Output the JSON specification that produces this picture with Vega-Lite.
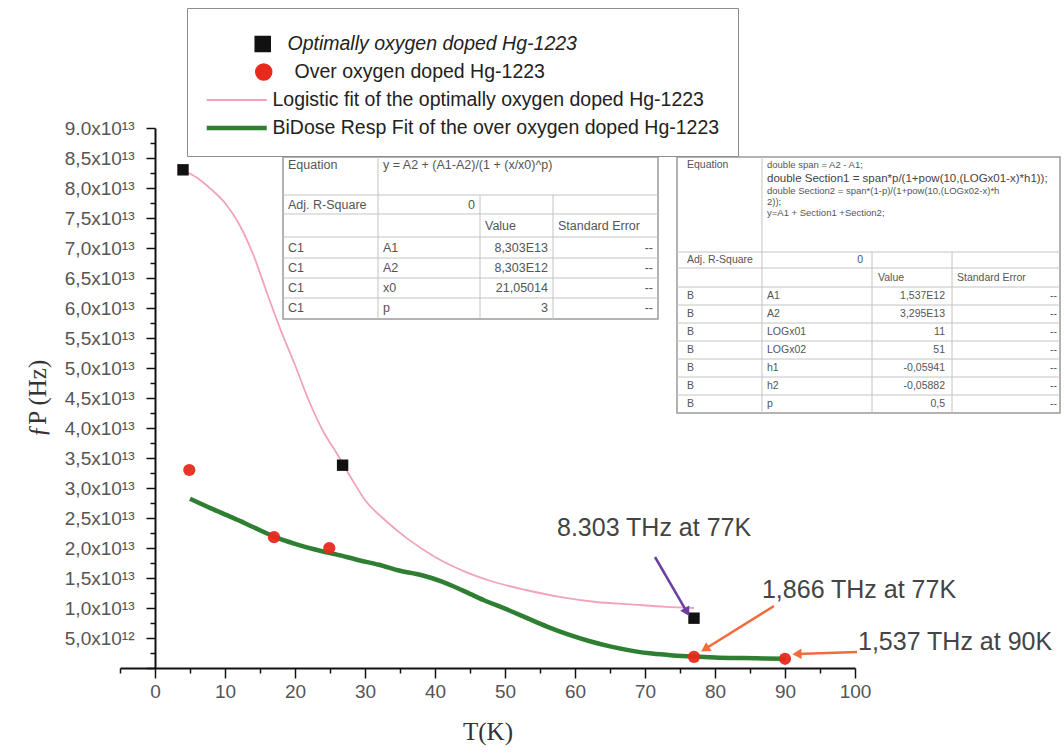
{
  "$schema": "https://vega.github.io/schema/vega-lite/v6.json",
  "width": 735,
  "height": 540,
  "autosize": "none",
  "padding": {"left": 120, "top": 128, "right": 209, "bottom": 86},
  "background": "white",
  "config": {
    "view": {"stroke": null},
    "font": "Liberation Sans",
    "axis": {"grid": false},
    "legend": {"symbolOffset": 22, "labelOffset": 26, "padding": 18, "rowPadding": 8, "clipHeight": 20}
  },
  "datasets": {
    "tableBoxes": [
      {"T": 18.29, "T2": 71.86, "fp": 5.817e13, "fp2": 8.517e13},
      {"T": 74.57, "T2": 129.29, "fp": 4.25e13, "fp2": 8.517e13}
    ],
    "tableRules": [
      {"T": 18.29, "T2": 71.86, "fp": 7.883e13, "fp2": 7.883e13},
      {"T": 18.29, "T2": 71.86, "fp": 7.567e13, "fp2": 7.567e13},
      {"T": 18.29, "T2": 71.86, "fp": 7.183e13, "fp2": 7.183e13},
      {"T": 18.29, "T2": 71.86, "fp": 6.833e13, "fp2": 6.833e13},
      {"T": 18.29, "T2": 71.86, "fp": 6.5e13, "fp2": 6.5e13},
      {"T": 18.29, "T2": 71.86, "fp": 6.167e13, "fp2": 6.167e13},
      {"T": 31.86, "T2": 31.86, "fp": 5.817e13, "fp2": 8.517e13},
      {"T": 46.43, "T2": 46.43, "fp": 5.817e13, "fp2": 7.883e13},
      {"T": 56.86, "T2": 56.86, "fp": 5.817e13, "fp2": 7.883e13},
      {"T": 74.57, "T2": 129.29, "fp": 6.933e13, "fp2": 6.933e13},
      {"T": 74.57, "T2": 129.29, "fp": 6.667e13, "fp2": 6.667e13},
      {"T": 74.57, "T2": 129.29, "fp": 6.35e13, "fp2": 6.35e13},
      {"T": 74.57, "T2": 129.29, "fp": 6.05e13, "fp2": 6.05e13},
      {"T": 74.57, "T2": 129.29, "fp": 5.75e13, "fp2": 5.75e13},
      {"T": 74.57, "T2": 129.29, "fp": 5.45e13, "fp2": 5.45e13},
      {"T": 74.57, "T2": 129.29, "fp": 5.15e13, "fp2": 5.15e13},
      {"T": 74.57, "T2": 129.29, "fp": 4.85e13, "fp2": 4.85e13},
      {"T": 74.57, "T2": 129.29, "fp": 4.55e13, "fp2": 4.55e13},
      {"T": 86.71, "T2": 86.71, "fp": 4.25e13, "fp2": 8.517e13},
      {"T": 102.43, "T2": 102.43, "fp": 4.25e13, "fp2": 6.933e13},
      {"T": 113.86, "T2": 113.86, "fp": 4.25e13, "fp2": 6.933e13}
    ],
    "t1Left": [
      {"T": 19.0, "fp": 8.383e13, "text": "Equation"},
      {"T": 32.57, "fp": 8.383e13, "text": "y = A2 + (A1-A2)/(1 + (x/x0)^p)"},
      {"T": 19.0, "fp": 7.725e13, "text": "Adj. R-Square"},
      {"T": 47.14, "fp": 7.375e13, "text": "Value"},
      {"T": 57.57, "fp": 7.375e13, "text": "Standard Error"},
      {"T": 19.0, "fp": 7.008e13, "text": "C1"},
      {"T": 19.0, "fp": 6.667e13, "text": "C1"},
      {"T": 19.0, "fp": 6.333e13, "text": "C1"},
      {"T": 19.0, "fp": 5.992e13, "text": "C1"},
      {"T": 32.57, "fp": 7.008e13, "text": "A1"},
      {"T": 32.57, "fp": 6.667e13, "text": "A2"},
      {"T": 32.57, "fp": 6.333e13, "text": "x0"},
      {"T": 32.57, "fp": 5.992e13, "text": "p"}
    ],
    "t1Right": [
      {"T": 45.71, "fp": 7.725e13, "text": "0"},
      {"T": 56.14, "fp": 7.008e13, "text": "8,303E13"},
      {"T": 56.14, "fp": 6.667e13, "text": "8,303E12"},
      {"T": 56.14, "fp": 6.333e13, "text": "21,05014"},
      {"T": 56.14, "fp": 5.992e13, "text": "3"},
      {"T": 71.14, "fp": 7.008e13, "text": "--"},
      {"T": 71.14, "fp": 6.667e13, "text": "--"},
      {"T": 71.14, "fp": 6.333e13, "text": "--"},
      {"T": 71.14, "fp": 5.992e13, "text": "--"}
    ],
    "t2Left": [
      {"T": 76.0, "fp": 8.383e13, "text": "Equation"},
      {"T": 76.0, "fp": 6.8e13, "text": "Adj. R-Square"},
      {"T": 103.29, "fp": 6.508e13, "text": "Value"},
      {"T": 114.57, "fp": 6.508e13, "text": "Standard Error"},
      {"T": 76.0, "fp": 6.2e13, "text": "B"},
      {"T": 76.0, "fp": 5.9e13, "text": "B"},
      {"T": 76.0, "fp": 5.6e13, "text": "B"},
      {"T": 76.0, "fp": 5.3e13, "text": "B"},
      {"T": 76.0, "fp": 5.0e13, "text": "B"},
      {"T": 76.0, "fp": 4.7e13, "text": "B"},
      {"T": 76.0, "fp": 4.4e13, "text": "B"},
      {"T": 87.43, "fp": 6.2e13, "text": "A1"},
      {"T": 87.43, "fp": 5.9e13, "text": "A2"},
      {"T": 87.43, "fp": 5.6e13, "text": "LOGx01"},
      {"T": 87.43, "fp": 5.3e13, "text": "LOGx02"},
      {"T": 87.43, "fp": 5.0e13, "text": "h1"},
      {"T": 87.43, "fp": 4.7e13, "text": "h2"},
      {"T": 87.43, "fp": 4.4e13, "text": "p"}
    ],
    "t2Right": [
      {"T": 101.14, "fp": 6.8e13, "text": "0"},
      {"T": 112.86, "fp": 6.2e13, "text": "1,537E12"},
      {"T": 112.86, "fp": 5.9e13, "text": "3,295E13"},
      {"T": 112.86, "fp": 5.6e13, "text": "11"},
      {"T": 112.86, "fp": 5.3e13, "text": "51"},
      {"T": 112.86, "fp": 5.0e13, "text": "-0,05941"},
      {"T": 112.86, "fp": 4.7e13, "text": "-0,05882"},
      {"T": 112.86, "fp": 4.4e13, "text": "0,5"},
      {"T": 128.86, "fp": 6.2e13, "text": "--"},
      {"T": 128.86, "fp": 5.9e13, "text": "--"},
      {"T": 128.86, "fp": 5.6e13, "text": "--"},
      {"T": 128.86, "fp": 5.3e13, "text": "--"},
      {"T": 128.86, "fp": 5.0e13, "text": "--"},
      {"T": 128.86, "fp": 4.7e13, "text": "--"},
      {"T": 128.86, "fp": 4.4e13, "text": "--"}
    ],
    "t2EqSmall": [
      {"T": 87.43, "fp": 8.383e13, "text": "double span = A2 - A1;"},
      {"T": 87.43, "fp": 7.95e13, "text": "double Section2 = span*(1-p)/(1+pow(10,(LOGx02-x)*h"},
      {"T": 87.43, "fp": 7.767e13, "text": "2));"},
      {"T": 87.43, "fp": 7.583e13, "text": "y=A1 + Section1 +Section2;"}
    ],
    "t2EqBig": [
      {"T": 87.43, "fp": 8.15e13, "text": "double Section1 = span*p/(1+pow(10,(LOGx01-x)*h1));"}
    ],
    "logisticFit": [
      {"T": 4, "fp": 8.30e13, "series": "Logistic fit of the optimally oxygen doped Hg-1223"},
      {"T": 6, "fp": 8.17e13, "series": "Logistic fit of the optimally oxygen doped Hg-1223"},
      {"T": 8, "fp": 7.98e13, "series": "Logistic fit of the optimally oxygen doped Hg-1223"},
      {"T": 10, "fp": 7.75e13, "series": "Logistic fit of the optimally oxygen doped Hg-1223"},
      {"T": 12, "fp": 7.40e13, "series": "Logistic fit of the optimally oxygen doped Hg-1223"},
      {"T": 14, "fp": 6.90e13, "series": "Logistic fit of the optimally oxygen doped Hg-1223"},
      {"T": 16, "fp": 6.25e13, "series": "Logistic fit of the optimally oxygen doped Hg-1223"},
      {"T": 18, "fp": 5.62e13, "series": "Logistic fit of the optimally oxygen doped Hg-1223"},
      {"T": 20, "fp": 5.05e13, "series": "Logistic fit of the optimally oxygen doped Hg-1223"},
      {"T": 22, "fp": 4.45e13, "series": "Logistic fit of the optimally oxygen doped Hg-1223"},
      {"T": 24, "fp": 3.95e13, "series": "Logistic fit of the optimally oxygen doped Hg-1223"},
      {"T": 26, "fp": 3.57e13, "series": "Logistic fit of the optimally oxygen doped Hg-1223"},
      {"T": 28, "fp": 3.17e13, "series": "Logistic fit of the optimally oxygen doped Hg-1223"},
      {"T": 30, "fp": 2.80e13, "series": "Logistic fit of the optimally oxygen doped Hg-1223"},
      {"T": 33, "fp": 2.45e13, "series": "Logistic fit of the optimally oxygen doped Hg-1223"},
      {"T": 36, "fp": 2.16e13, "series": "Logistic fit of the optimally oxygen doped Hg-1223"},
      {"T": 40, "fp": 1.85e13, "series": "Logistic fit of the optimally oxygen doped Hg-1223"},
      {"T": 44, "fp": 1.62e13, "series": "Logistic fit of the optimally oxygen doped Hg-1223"},
      {"T": 48, "fp": 1.45e13, "series": "Logistic fit of the optimally oxygen doped Hg-1223"},
      {"T": 53, "fp": 1.30e13, "series": "Logistic fit of the optimally oxygen doped Hg-1223"},
      {"T": 58, "fp": 1.18e13, "series": "Logistic fit of the optimally oxygen doped Hg-1223"},
      {"T": 63, "fp": 1.10e13, "series": "Logistic fit of the optimally oxygen doped Hg-1223"},
      {"T": 68, "fp": 1.06e13, "series": "Logistic fit of the optimally oxygen doped Hg-1223"},
      {"T": 73, "fp": 1.02e13, "series": "Logistic fit of the optimally oxygen doped Hg-1223"},
      {"T": 77, "fp": 1.00e13, "series": "Logistic fit of the optimally oxygen doped Hg-1223"}
    ],
    "biDoseFit": [
      {"T": 5, "fp": 2.82e13, "series": "BiDose Resp Fit of the over oxygen doped Hg-1223"},
      {"T": 8, "fp": 2.66e13, "series": "BiDose Resp Fit of the over oxygen doped Hg-1223"},
      {"T": 11, "fp": 2.51e13, "series": "BiDose Resp Fit of the over oxygen doped Hg-1223"},
      {"T": 14, "fp": 2.35e13, "series": "BiDose Resp Fit of the over oxygen doped Hg-1223"},
      {"T": 17, "fp": 2.19e13, "series": "BiDose Resp Fit of the over oxygen doped Hg-1223"},
      {"T": 20, "fp": 2.07e13, "series": "BiDose Resp Fit of the over oxygen doped Hg-1223"},
      {"T": 23, "fp": 1.97e13, "series": "BiDose Resp Fit of the over oxygen doped Hg-1223"},
      {"T": 26, "fp": 1.89e13, "series": "BiDose Resp Fit of the over oxygen doped Hg-1223"},
      {"T": 29, "fp": 1.80e13, "series": "BiDose Resp Fit of the over oxygen doped Hg-1223"},
      {"T": 32, "fp": 1.72e13, "series": "BiDose Resp Fit of the over oxygen doped Hg-1223"},
      {"T": 35, "fp": 1.62e13, "series": "BiDose Resp Fit of the over oxygen doped Hg-1223"},
      {"T": 38, "fp": 1.55e13, "series": "BiDose Resp Fit of the over oxygen doped Hg-1223"},
      {"T": 41, "fp": 1.44e13, "series": "BiDose Resp Fit of the over oxygen doped Hg-1223"},
      {"T": 44, "fp": 1.29e13, "series": "BiDose Resp Fit of the over oxygen doped Hg-1223"},
      {"T": 47, "fp": 1.13e13, "series": "BiDose Resp Fit of the over oxygen doped Hg-1223"},
      {"T": 50, "fp": 0.99e13, "series": "BiDose Resp Fit of the over oxygen doped Hg-1223"},
      {"T": 53, "fp": 0.84e13, "series": "BiDose Resp Fit of the over oxygen doped Hg-1223"},
      {"T": 56, "fp": 0.69e13, "series": "BiDose Resp Fit of the over oxygen doped Hg-1223"},
      {"T": 59, "fp": 0.56e13, "series": "BiDose Resp Fit of the over oxygen doped Hg-1223"},
      {"T": 62, "fp": 0.45e13, "series": "BiDose Resp Fit of the over oxygen doped Hg-1223"},
      {"T": 65, "fp": 0.36e13, "series": "BiDose Resp Fit of the over oxygen doped Hg-1223"},
      {"T": 68, "fp": 0.29e13, "series": "BiDose Resp Fit of the over oxygen doped Hg-1223"},
      {"T": 71, "fp": 0.24e13, "series": "BiDose Resp Fit of the over oxygen doped Hg-1223"},
      {"T": 74, "fp": 0.21e13, "series": "BiDose Resp Fit of the over oxygen doped Hg-1223"},
      {"T": 77, "fp": 0.19e13, "series": "BiDose Resp Fit of the over oxygen doped Hg-1223"},
      {"T": 80, "fp": 0.175e13, "series": "BiDose Resp Fit of the over oxygen doped Hg-1223"},
      {"T": 84, "fp": 0.165e13, "series": "BiDose Resp Fit of the over oxygen doped Hg-1223"},
      {"T": 87, "fp": 0.16e13, "series": "BiDose Resp Fit of the over oxygen doped Hg-1223"},
      {"T": 90, "fp": 0.155e13, "series": "BiDose Resp Fit of the over oxygen doped Hg-1223"}
    ],
    "optimal": [
      {"T": 4, "fp": 8.303e13, "series": "Optimally oxygen doped Hg-1223"},
      {"T": 26.8, "fp": 3.38e13, "series": "Optimally oxygen doped Hg-1223"},
      {"T": 77, "fp": 8.303e12, "series": "Optimally oxygen doped Hg-1223"}
    ],
    "over": [
      {"T": 4.9, "fp": 3.3e13, "series": "Over oxygen doped Hg-1223"},
      {"T": 17, "fp": 2.18e13, "series": "Over oxygen doped Hg-1223"},
      {"T": 24.9, "fp": 2.0e13, "series": "Over oxygen doped Hg-1223"},
      {"T": 77, "fp": 1.866e12, "series": "Over oxygen doped Hg-1223"},
      {"T": 90, "fp": 1.537e12, "series": "Over oxygen doped Hg-1223"}
    ],
    "arrows": [
      {"note": "8.303 THz at 77K", "T": 71.43, "fp": 1.85e13, "T2": 76.0, "fp2": 0.933e13},
      {"note": "1,866 THz at 77K", "T": 88.43, "fp": 1.033e13, "T2": 78.57, "fp2": 0.317e13},
      {"note": "1,537 THz at 90K", "T": 100.29, "fp": 0.267e13, "T2": 91.71, "fp2": 0.233e13}
    ],
    "notes": [
      {"T": 57.43, "fp": 2.333e13, "text": "8.303 THz at 77K"},
      {"T": 86.71, "fp": 1.3e13, "text": "1,866 THz at 77K"},
      {"T": 100.43, "fp": 0.433e13, "text": "1,537 THz at 90K"}
    ]
  },
  "layer": [
    {
      "data": {"name": "tableBoxes"},
      "mark": {"type": "rect", "fill": "white", "stroke": "#9a9a9a", "strokeWidth": 1.5},
      "encoding": {
        "x": {
          "field": "T", "type": "quantitative",
          "scale": {"domain": [-5, 100], "nice": false, "zero": false},
          "axis": {
            "title": "T(K)", "titleFont": "Liberation Serif", "titleFontSize": 25, "titleFontWeight": "normal",
            "titleColor": "#333", "titlePadding": 18,
            "values": [-5, 0, 5, 10, 15, 20, 25, 30, 35, 40, 45, 50, 55, 60, 65, 70, 75, 80, 85, 90, 95, 100],
            "tickCount": 500,
            "labelExpr": "datum.value >= 0 && datum.value % 10 == 0 ? format(datum.value, 'd') : ''",
            "labelFontSize": 19, "labelColor": "#555", "labelPadding": 4, "labelFlush": false, "labelOverlap": false,
            "domainColor": "#111", "domainWidth": 2, "tickColor": "#111", "tickWidth": 1.5,
            "tickSize": {"condition": {"test": "datum.value % 10 == 0", "value": 10}, "value": 5}
          }
        },
        "x2": {"field": "T2"},
        "y": {
          "field": "fp", "type": "quantitative",
          "scale": {"domain": [0, 9e13], "nice": false, "zero": false},
          "axis": {
            "title": "ƒP (Hz)", "titleFont": "Liberation Serif", "titleFontSize": 25, "titleFontWeight": "normal",
            "titleColor": "#333", "titlePadding": 14, "offset": -35,
            "values": [0, 2.5e12, 5e12, 7.5e12, 1e13, 1.25e13, 1.5e13, 1.75e13, 2e13, 2.25e13, 2.5e13, 2.75e13, 3e13, 3.25e13, 3.5e13, 3.75e13, 4e13, 4.25e13, 4.5e13, 4.75e13, 5e13, 5.25e13, 5.5e13, 5.75e13, 6e13, 6.25e13, 6.5e13, 6.75e13, 7e13, 7.25e13, 7.5e13, 7.75e13, 8e13, 8.25e13, 8.5e13, 8.75e13, 9e13],
            "tickCount": 500,
            "labelExpr": "datum.value == 0 || datum.value % 5e12 != 0 ? '' : datum.value == 9e13 ? '9.0x10¹³' : datum.value < 1e13 ? replace(format(datum.value / 1e12, '.1f'), '.', ',') + 'x10¹²' : replace(format(datum.value / 1e13, '.1f'), '.', ',') + 'x10¹³'",
            "labelFontSize": 19, "labelColor": "#555", "labelPadding": 12, "labelOverlap": false,
            "domainColor": "#111", "domainWidth": 2, "tickColor": "#111", "tickWidth": 1.5,
            "tickSize": {"condition": {"test": "datum.value % 5e12 == 0", "value": 9}, "value": 5}
          }
        },
        "y2": {"field": "fp2"}
      }
    },
    {
      "data": {"name": "tableRules"},
      "mark": {"type": "rule", "stroke": "#c4c4c4", "strokeWidth": 1},
      "encoding": {
        "x": {"field": "T", "type": "quantitative"},
        "x2": {"field": "T2"},
        "y": {"field": "fp", "type": "quantitative"},
        "y2": {"field": "fp2"}
      }
    },
    {
      "data": {"name": "t1Left"},
      "mark": {"type": "text", "align": "left", "baseline": "middle", "fontSize": 12.5, "color": "#555"},
      "encoding": {
        "x": {"field": "T", "type": "quantitative"},
        "y": {"field": "fp", "type": "quantitative"},
        "text": {"field": "text"}
      }
    },
    {
      "data": {"name": "t1Right"},
      "mark": {"type": "text", "align": "right", "baseline": "middle", "fontSize": 12.5, "color": "#555"},
      "encoding": {
        "x": {"field": "T", "type": "quantitative"},
        "y": {"field": "fp", "type": "quantitative"},
        "text": {"field": "text"}
      }
    },
    {
      "data": {"name": "t2Left"},
      "mark": {"type": "text", "align": "left", "baseline": "middle", "fontSize": 10.5, "color": "#555"},
      "encoding": {
        "x": {"field": "T", "type": "quantitative"},
        "y": {"field": "fp", "type": "quantitative"},
        "text": {"field": "text"}
      }
    },
    {
      "data": {"name": "t2Right"},
      "mark": {"type": "text", "align": "right", "baseline": "middle", "fontSize": 10.5, "color": "#555"},
      "encoding": {
        "x": {"field": "T", "type": "quantitative"},
        "y": {"field": "fp", "type": "quantitative"},
        "text": {"field": "text"}
      }
    },
    {
      "data": {"name": "t2EqSmall"},
      "mark": {"type": "text", "align": "left", "baseline": "middle", "fontSize": 9.5, "color": "#555"},
      "encoding": {
        "x": {"field": "T", "type": "quantitative"},
        "y": {"field": "fp", "type": "quantitative"},
        "text": {"field": "text"}
      }
    },
    {
      "data": {"name": "t2EqBig"},
      "mark": {"type": "text", "align": "left", "baseline": "middle", "fontSize": 11.5, "color": "#444"},
      "encoding": {
        "x": {"field": "T", "type": "quantitative"},
        "y": {"field": "fp", "type": "quantitative"},
        "text": {"field": "text"}
      }
    },
    {
      "data": {"name": "logisticFit"},
      "mark": {"type": "line", "strokeWidth": 1.8, "interpolate": "monotone"},
      "encoding": {
        "x": {"field": "T", "type": "quantitative"},
        "y": {"field": "fp", "type": "quantitative"},
        "color": {
          "field": "series", "type": "nominal",
          "scale": {
            "domain": ["Optimally oxygen doped Hg-1223", "Over oxygen doped Hg-1223", "Logistic fit of the optimally oxygen doped Hg-1223", "BiDose Resp Fit of the over oxygen doped Hg-1223"],
            "range": ["#111111", "#e8291c", "#f2a3b8", "#2f7f33"]
          },
          "legend": {
            "orient": "none", "legendX": 67, "legendY": -120,
            "title": " ", "titleFontSize": 8, "titlePadding": 0,
            "padding": 18, "strokeColor": "#8c8c8c", "fillColor": "white",
            "symbolSize": 3600, "clipHeight": 20, "rowPadding": 8,
            "symbolOffset": 22, "labelOffset": 26,
            "labelFont": "Liberation Sans", "labelFontSize": 19.5, "labelColor": "#222", "labelLimit": 800,
            "encode": {
              "symbols": {
                "update": {
                  "shape": {"signal": "datum.value == 'Optimally oxygen doped Hg-1223' ? 'M3.33,-1L5.33,-1L5.33,1L3.33,1Z' : datum.value == 'Over oxygen doped Hg-1223' ? 'M3.15,0A1,1,0,1,1,5.15,0A1,1,0,1,1,3.15,0Z' : 'stroke'"},
                  "size": {"signal": "datum.value == 'Optimally oxygen doped Hg-1223' ? 144 : datum.value == 'Over oxygen doped Hg-1223' ? 169 : 3600"},
                  "fill": {"signal": "indexof(['Optimally oxygen doped Hg-1223', 'Over oxygen doped Hg-1223'], datum.value) >= 0 ? scale('color', datum.value) : 'transparent'"},
                  "stroke": {"signal": "indexof(['Optimally oxygen doped Hg-1223', 'Over oxygen doped Hg-1223'], datum.value) >= 0 ? 'transparent' : scale('color', datum.value)"},
                  "strokeWidth": {"signal": "datum.value == 'Logistic fit of the optimally oxygen doped Hg-1223' ? 2.2 : 4.5"},
                  "opacity": {"value": 1}
                }
              },
              "labels": {
                "update": {
                  "fontStyle": {"signal": "datum.value == 'Optimally oxygen doped Hg-1223' ? 'italic' : 'normal'"},
                  "dx": {"signal": "datum.value == 'Optimally oxygen doped Hg-1223' ? 15 : datum.value == 'Over oxygen doped Hg-1223' ? 22 : 0"}
                }
              }
            }
          }
        }
      }
    },
    {
      "data": {"name": "biDoseFit"},
      "mark": {"type": "line", "strokeWidth": 4.5, "interpolate": "monotone"},
      "encoding": {
        "x": {"field": "T", "type": "quantitative"},
        "y": {"field": "fp", "type": "quantitative"},
        "color": {"field": "series", "type": "nominal"}
      }
    },
    {
      "data": {"name": "optimal"},
      "mark": {"type": "point", "shape": "square", "filled": true, "size": 130, "opacity": 1},
      "encoding": {
        "x": {"field": "T", "type": "quantitative"},
        "y": {"field": "fp", "type": "quantitative"},
        "color": {"field": "series", "type": "nominal"}
      }
    },
    {
      "data": {"name": "over"},
      "mark": {"type": "point", "shape": "circle", "filled": true, "size": 150, "opacity": 0.95},
      "encoding": {
        "x": {"field": "T", "type": "quantitative"},
        "y": {"field": "fp", "type": "quantitative"},
        "color": {"field": "series", "type": "nominal"}
      }
    },
    {
      "data": {"name": "arrows"},
      "mark": {"type": "rule", "strokeWidth": 2.5},
      "encoding": {
        "x": {"field": "T", "type": "quantitative"},
        "x2": {"field": "T2"},
        "y": {"field": "fp", "type": "quantitative"},
        "y2": {"field": "fp2"},
        "color": {"condition": {"test": "datum.note == '8.303 THz at 77K'", "value": "#6b3fa0"}, "value": "#f26b3a"}
      }
    },
    {
      "data": {"name": "arrows"},
      "mark": {"type": "point", "shape": "triangle-up", "filled": true, "size": 110, "opacity": 1},
      "encoding": {
        "x": {"field": "T2", "type": "quantitative"},
        "y": {"field": "fp2", "type": "quantitative"},
        "angle": {"condition": [{"test": "datum.note == '8.303 THz at 77K'", "value": 150}, {"test": "datum.note == '1,866 THz at 77K'", "value": 238}], "value": 268},
        "color": {"condition": {"test": "datum.note == '8.303 THz at 77K'", "value": "#6b3fa0"}, "value": "#f26b3a"}
      }
    },
    {
      "data": {"name": "notes"},
      "mark": {"type": "text", "align": "left", "baseline": "middle", "fontSize": 25, "color": "#444"},
      "encoding": {
        "x": {"field": "T", "type": "quantitative"},
        "y": {"field": "fp", "type": "quantitative"},
        "text": {"field": "text"}
      }
    }
  ]
}
